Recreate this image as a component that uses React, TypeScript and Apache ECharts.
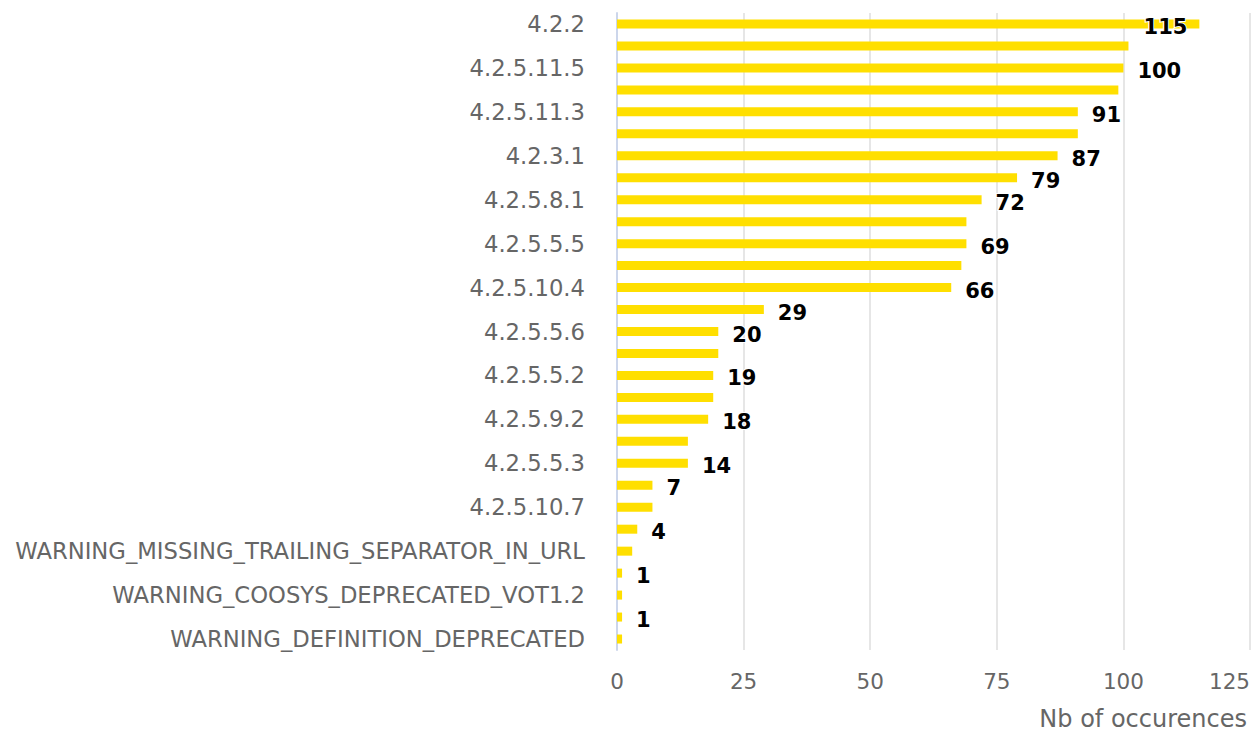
import React, { useEffect, useRef } from "react";
import * as echarts from "echarts";

// Category names (only every other name is legible in the reference; the rest are unlabelled)
const categories: string[] = [
  "4.2.2", "",
  "4.2.5.11.5", "",
  "4.2.5.11.3", "",
  "4.2.3.1", "",
  "4.2.5.8.1", "",
  "4.2.5.5.5", "",
  "4.2.5.10.4", "",
  "4.2.5.5.6", "",
  "4.2.5.5.2", "",
  "4.2.5.9.2", "",
  "4.2.5.5.3", "",
  "4.2.5.10.7", "",
  "WARNING_MISSING_TRAILING_SEPARATOR_IN_URL", "",
  "WARNING_COOSYS_DEPRECATED_VOT1.2", "",
  "WARNING_DEFINITION_DEPRECATED",
];

const occurrences: number[] = [
  115, 101, 100, 99, 91, 91, 87, 79, 72, 69, 69, 68, 66, 29,
  20, 20, 19, 19, 18, 14, 14, 7, 7, 4, 3, 1, 1, 1, 1,
];

// Indices of bars whose value label is displayed in the reference
const labelledBars: number[] = [0, 2, 4, 6, 7, 8, 10, 12, 13, 14, 16, 18, 20, 21, 23, 25, 27];

const xTicks = { min: 0, max: 125, interval: 25 };
const axisTitle = "Nb of occurences";

const FONT = "'DejaVu Sans', sans-serif";

export default function App() {
  const ref = useRef<HTMLDivElement>(null);

  useEffect(() => {
    document.body.style.margin = "0";
    if (!ref.current) return;
    const chart = echarts.init(ref.current, undefined, { renderer: "svg" });

    const data = occurrences.map((v, i) => {
      const show = labelledBars.includes(i);
      const item: any = { value: v, label: { show } };
      if (show && v === Math.max(...occurrences)) {
        item.label = { show: true, position: "insideRight", distance: 12 };
      }
      return item;
    });

    chart.setOption({
      animation: false,
      backgroundColor: "#ffffff",
      textStyle: { fontFamily: FONT },
      grid: { left: 617, right: 0.5, top: 13, bottom: 86, containLabel: false },
      xAxis: {
        type: "value",
        min: xTicks.min,
        max: xTicks.max,
        interval: xTicks.interval,
        axisLine: { show: false },
        axisTick: { show: false },
        splitLine: { show: true, lineStyle: { color: "#e6e6e6", width: 2 } },
        axisLabel: {
          color: "#666666",
          fontSize: 21.5,
          fontFamily: FONT,
          margin: 20,
          alignMaxLabel: "right",
        },
        name: axisTitle,
        nameLocation: "end",
        nameGap: -3,
        nameTextStyle: {
          color: "#666666",
          fontSize: 24,
          fontFamily: FONT,
          align: "right",
          verticalAlign: "top",
          padding: [57, 0, 0, 0],
        },
      },
      yAxis: {
        type: "category",
        data: categories,
        inverse: true,
        axisLine: { show: true, lineStyle: { color: "#ccd6eb", width: 2 } },
        axisTick: { show: false },
        splitLine: { show: false },
        axisLabel: {
          interval: 1,
          color: "#666666",
          fontSize: 22.7,
          fontFamily: FONT,
          margin: 32,
          padding: [4, 0, 0, 0],
        },
      },
      series: [
        {
          type: "bar",
          data,
          barWidth: 9,
          itemStyle: { color: "#ffdf00" },
          label: {
            show: false,
            position: "right",
            distance: 14,
            offset: [0, 3],
            color: "#000000",
            fontWeight: "bold",
            fontSize: 21,
            fontFamily: FONT,
            textBorderColor: "#ffffff",
            textBorderWidth: 2,
          },
        },
      ],
    });

    return () => chart.dispose();
  }, []);

  return <div ref={ref} style={{ width: 1253, height: 736 }} />;
}
